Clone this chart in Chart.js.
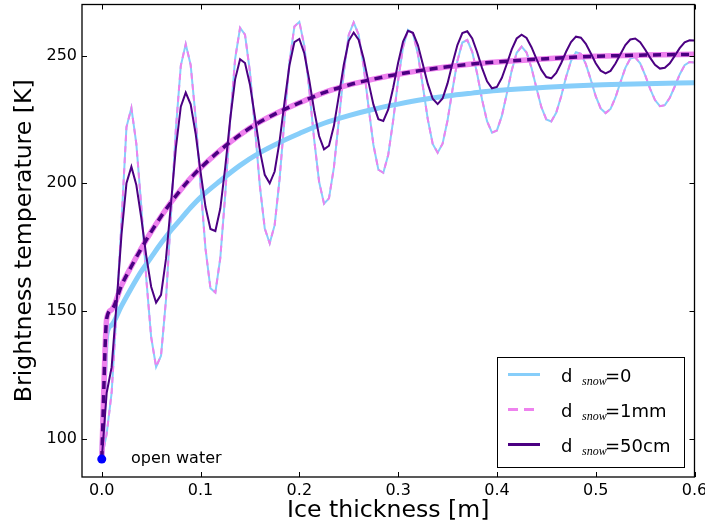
<!DOCTYPE html>
<html>
<head>
<meta charset="utf-8">
<script src="https://cdn.jsdelivr.net/npm/chart.js@4.4.0/dist/chart.umd.min.js"></script>
<style>
html, body { margin: 0; padding: 0; background: #fff; }
#wrap { width: 705px; height: 531px; }
</style>
</head>
<body>
<div id="wrap"><canvas id="tbChart" width="705" height="531"></canvas></div>
<script>
// Espesor de hielo (m) para las curvas coherentes (oscilantes)
const thickness = [
    0, 0.005, 0.01, 0.015, 0.02, 0.025, 0.03, 0.035, 0.04, 0.045,
    0.05, 0.055, 0.06, 0.065, 0.07, 0.075, 0.08, 0.085, 0.09, 0.095,
    0.1, 0.105, 0.11, 0.115, 0.12, 0.125, 0.13, 0.135, 0.14, 0.145,
    0.15, 0.155, 0.16, 0.165, 0.17, 0.175, 0.18, 0.185, 0.19, 0.195,
    0.2, 0.205, 0.21, 0.215, 0.22, 0.225, 0.23, 0.235, 0.24, 0.245,
    0.25, 0.255, 0.26, 0.265, 0.27, 0.275, 0.28, 0.285, 0.29, 0.295,
    0.3, 0.305, 0.31, 0.315, 0.32, 0.325, 0.33, 0.335, 0.34, 0.345,
    0.35, 0.355, 0.36, 0.365, 0.37, 0.375, 0.38, 0.385, 0.39, 0.395,
    0.4, 0.405, 0.41, 0.415, 0.42, 0.425, 0.43, 0.435, 0.44, 0.445,
    0.45, 0.455, 0.46, 0.465, 0.47, 0.475, 0.48, 0.485, 0.49, 0.495,
    0.5, 0.505, 0.51, 0.515, 0.52, 0.525, 0.53, 0.535, 0.54, 0.545,
    0.55, 0.555, 0.56, 0.565, 0.57, 0.575, 0.58, 0.585, 0.59, 0.595,
    0.6
];

// d_snow = 0 (y 1mm, casi igual): curva coherente
const tbCoherentNoSnow = [
    92, 102, 118, 150, 185, 222, 229.5, 215.4, 191.1, 163,
    139.8, 128.1, 132.5, 154.3, 187.2, 221.1, 246, 254.5, 246.3, 225.8,
    199.2, 174.4, 158.9, 157.2, 170.8, 195.7, 224.6, 248.7, 260.9, 258.2,
    243.6, 221.8, 199.1, 182.3, 176.5, 183.6, 201.6, 225.3, 247.5, 261.4,
    263.2, 253.9, 236.9, 217.2, 200.6, 192, 194.1, 206.2, 224.7, 243.4,
    258.1, 263, 258.2, 246, 230, 215, 205.3, 204.1, 211.2, 224.6,
    240.3, 253.3, 260.1, 258.7, 250.6, 238.1, 225.1, 215.4, 212, 215.5,
    224.6, 236.6, 247.9, 255.1, 256.1, 251.5, 242.9, 232.7, 224.3, 219.8,
    220.7, 226.4, 235.1, 244.2, 251.1, 253.5, 251.2, 245.2, 237.3, 229.8,
    225, 224.2, 227.6, 234, 241.6, 247.9, 251.3, 250.7, 246.7, 240.6,
    234.1, 229.3, 227.5, 229.1, 233.6, 239.5, 245.2, 248.8, 249.3, 247,
    242.4, 237.1, 232.6, 230.2, 230.6, 233.5, 237.9, 242.6, 246.2, 247.5,
    247.3
];

// d_snow = 50cm: curva coherente
const tbCoherent50cm = [
    92, 118, 128, 153, 180, 200, 206.5, 199.3, 186.5, 171.7,
    159.5, 153.3, 156.3, 170.4, 191.8, 213.8, 230, 235.5, 230.9, 219.5,
    204.6, 190.8, 182.1, 181.3, 190.1, 206.3, 225, 240.7, 248.6, 247.1,
    238.7, 226.1, 213, 203.3, 200, 204.6, 216.4, 231.8, 246.2, 255.3,
    256.5, 250.9, 240.5, 228.6, 218.5, 213.3, 214.7, 222.5, 234.3, 246.4,
    255.8, 259, 256.2, 249, 239.6, 230.8, 225.1, 224.4, 228.9, 237.4,
    247.2, 255.5, 259.7, 258.9, 254.1, 246.6, 238.9, 233.1, 231, 233.2,
    239.1, 246.9, 254.1, 258.8, 259.5, 256.7, 251.3, 245.1, 239.9, 237.2,
    237.7, 241.3, 246.7, 252.4, 256.7, 258.2, 256.9, 253.3, 248.7, 244.4,
    241.6, 241.1, 243.2, 247, 251.5, 255.3, 257.4, 257, 254.6, 250.9,
    247, 244.1, 243, 244, 246.9, 250.5, 254.1, 256.3, 256.7, 255.2,
    252.4, 249.2, 246.4, 244.9, 245.2, 247, 249.9, 252.9, 255.2, 256,
    255.9
];

// Curvas incoherentes (suaves)
const smoothThickness = [
    0, 0.005, 0.01, 0.02, 0.03, 0.04, 0.05, 0.06, 0.07, 0.08,
    0.09, 0.1, 0.12, 0.14, 0.16, 0.18, 0.2, 0.225, 0.25, 0.275,
    0.3, 0.325, 0.35, 0.375, 0.4, 0.45, 0.5, 0.55, 0.6
];
const tbIncoherentNoSnow = [
    92, 140.5, 144.5, 152, 159, 165.5, 171, 176.5, 181.5, 186,
    190.5, 194.5, 201, 207, 212, 216, 219.5, 223.5, 226.5, 229,
    231, 232.8, 234.2, 235.3, 236.3, 237.6, 238.5, 239, 239.4
];
const tbIncoherentSnow = [
    92, 147, 150.5, 160, 167.5, 174.5, 181, 187, 192.5, 197.5,
    202, 206, 213, 219, 224, 228, 231.5, 235.5, 238.5, 240.8,
    242.7, 244.3, 245.6, 246.7, 247.5, 248.8, 249.7, 250.2, 250.5
];

const openWaterPoint = [{ x: 0, y: 92 }];
const xTicks = [0, 0.1, 0.2, 0.3, 0.4, 0.5, 0.6];
const yTicks = [100, 150, 200, 250];
const legendSuffix = ['=0', '=1mm', '=50cm'];

const lightBlue = '#87CEFA';
const violet = '#EE82EE';
const indigo = '#4B0082';

function pairs(xs, ys) {
    return xs.map((x, i) => ({ x: x, y: ys[i] }));
}

// Ticks hacia dentro, marco, leyenda y texto "open water"
const framePlugin = {
    id: 'framePlugin',
    afterDraw(chart) {
        const ctx = chart.ctx;
        const a = chart.chartArea;
        const xs = chart.scales.x;
        const ys = chart.scales.y;
        ctx.save();
        ctx.strokeStyle = '#000';
        ctx.lineWidth = 1;
        ctx.beginPath();
        xTicks.forEach(v => {
            const px = Math.round(xs.getPixelForValue(v)) + 0.5;
            ctx.moveTo(px, a.bottom); ctx.lineTo(px, a.bottom - 5);
            ctx.moveTo(px, a.top); ctx.lineTo(px, a.top + 5);
        });
        yTicks.forEach(v => {
            const py = Math.round(ys.getPixelForValue(v)) + 0.5;
            ctx.moveTo(a.left, py); ctx.lineTo(a.left + 5, py);
            ctx.moveTo(a.right, py); ctx.lineTo(a.right - 5, py);
        });
        ctx.stroke();
        ctx.lineWidth = 1.3;
        ctx.strokeRect(a.left, a.top, a.right - a.left, a.bottom - a.top);

        // texto "open water"
        ctx.fillStyle = '#000';
        ctx.font = '16px "DejaVu Sans"';
        ctx.textBaseline = 'middle';
        ctx.textAlign = 'left';
        ctx.fillText('open water', 131, 459);

        // leyenda
        const bx = 497, by = 357, bw = 187, bh = 110;
        ctx.fillStyle = '#fff';
        ctx.fillRect(bx, by, bw, bh);
        ctx.lineWidth = 1;
        ctx.strokeStyle = '#000';
        ctx.strokeRect(bx + 0.5, by + 0.5, bw, bh);
        const rows = [374.5, 409.5, 444.5];
        const styles = [
            { color: lightBlue, dash: [] },
            { color: violet, dash: [10, 6] },
            { color: indigo, dash: [] }
        ];
        rows.forEach((ry, i) => {
            ctx.beginPath();
            ctx.setLineDash(styles[i].dash);
            ctx.strokeStyle = styles[i].color;
            ctx.lineWidth = 3;
            ctx.moveTo(508, ry); ctx.lineTo(540, ry);
            ctx.stroke();
            ctx.setLineDash([]);
            ctx.fillStyle = '#000';
            ctx.textBaseline = 'alphabetic';
            ctx.font = '18px "DejaVu Sans"';
            ctx.fillText('d', 561, ry + 7);
            ctx.font = 'italic 12px "Liberation Serif"';
            ctx.fillText('snow', 582, ry + 10);
            ctx.font = '18px "DejaVu Sans"';
            ctx.fillText(legendSuffix[i], 605, ry + 7);
        });
        ctx.restore();
    }
};

const datasets = [
    {
        label: 'open water',
        data: openWaterPoint,
        showLine: false,
        pointRadius: 4.5,
        pointBackgroundColor: '#0000FF',
        pointBorderWidth: 0
    },
    {
        label: 'd_snow=50cm (coherente)',
        data: pairs(thickness, tbCoherent50cm),
        borderColor: indigo,
        borderWidth: 2
    },
    {
        label: 'd_snow=50cm (incoherente)',
        data: pairs(smoothThickness, tbIncoherentSnow),
        borderColor: indigo,
        borderWidth: 3.5,
        borderDash: [8, 6],
        cubicInterpolationMode: 'monotone'
    },
    {
        label: 'd_snow=1mm (incoherente)',
        data: pairs(smoothThickness, tbIncoherentSnow),
        borderColor: violet,
        borderWidth: 5.5,
        cubicInterpolationMode: 'monotone'
    },
    {
        label: 'd_snow=0 (incoherente)',
        data: pairs(smoothThickness, tbIncoherentNoSnow),
        borderColor: lightBlue,
        borderWidth: 5,
        cubicInterpolationMode: 'monotone'
    },
    {
        label: 'd_snow=1mm (coherente)',
        data: pairs(thickness, tbCoherentNoSnow),
        borderColor: violet,
        borderWidth: 2,
        borderDash: [6, 5]
    },
    {
        label: 'd_snow=0 (coherente)',
        data: pairs(thickness, tbCoherentNoSnow),
        borderColor: lightBlue,
        borderWidth: 2
    }
];

datasets.forEach(d => {
    if (d.pointRadius === undefined) d.pointRadius = 0;
    d.fill = false;
});

new Chart(document.getElementById('tbChart'), {
    type: 'line',
    data: { datasets: datasets },
    options: {
        responsive: false,
        animation: false,
        events: [],
        layout: { padding: { top: 3, right: 10.5, left: 0, bottom: 0 } },
        plugins: {
            legend: { display: false },
            tooltip: { enabled: false }
        },
        scales: {
            x: {
                type: 'linear',
                min: -0.02,
                max: 0.6,
                afterBuildTicks: scale => { scale.ticks = xTicks.map(v => ({ value: v })); },
                afterFit: scale => { scale.height = 54; scale.paddingLeft = 0; scale.paddingRight = 0; },
                grid: { display: false, drawTicks: false },
                border: { display: false },
                ticks: {
                    color: '#000',
                    padding: 4,
                    maxRotation: 0,
                    font: { family: 'DejaVu Sans', size: 16 },
                    callback: v => v.toFixed(1)
                },
                title: {
                    display: true,
                    text: 'Ice thickness [m]',
                    color: '#000',
                    font: { family: 'DejaVu Sans', size: 23.6 },
                    padding: { top: 0, bottom: 6 }
                }
            },
            y: {
                type: 'linear',
                min: 85,
                max: 270,
                afterBuildTicks: scale => { scale.ticks = yTicks.map(v => ({ value: v })); },
                afterFit: scale => { scale.width = 82; scale.paddingTop = 0; scale.paddingBottom = 0; },
                grid: { display: false, drawTicks: false },
                border: { display: false },
                ticks: {
                    color: '#000',
                    padding: 5,
                    font: { family: 'DejaVu Sans', size: 16 },
                    callback: v => String(v)
                },
                title: {
                    display: true,
                    text: 'Brightness temperature [K]',
                    color: '#000',
                    font: { family: 'DejaVu Sans', size: 23.6 },
                    padding: { top: 11, bottom: 0 }
                }
            }
        }
    },
    plugins: [framePlugin]
});
</script>
</body>
</html>
